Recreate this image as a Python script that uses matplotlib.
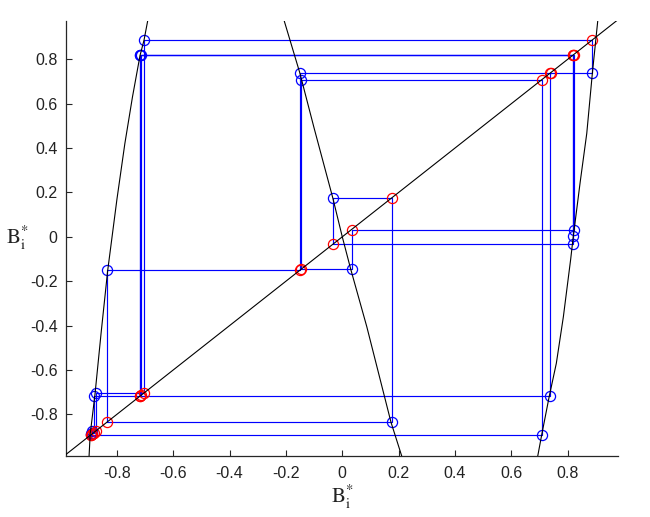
import matplotlib
matplotlib.use("Agg")
import matplotlib.pyplot as plt
from matplotlib.ticker import FuncFormatter, FixedLocator

plt.rcParams['font.family'] = ['Liberation Sans', 'DejaVu Sans']
plt.rcParams['mathtext.fontset'] = 'stix'

# ---- map branches (x, f(x)) ----
left_x = [-0.899, -0.895, -0.878, -0.856, -0.833, -0.800, -0.772, -0.745, -0.718, -0.704, -0.691]
left_y = [-0.988, -0.890, -0.710, -0.430, -0.153, 0.170, 0.420, 0.630, 0.818, 0.886, 0.973]

mid_x = [-0.206, -0.151, -0.100, -0.034, 0.000, 0.030, 0.087, 0.173, 0.211]
mid_y = [0.973, 0.740, 0.490, 0.177, 0.000, -0.146, -0.405, -0.836, -0.988]

right_x = [0.694, 0.708, 0.735, 0.760, 0.785, 0.811, 0.820, 0.845, 0.868, 0.888, 0.907]
right_y = [-0.988, -0.893, -0.718, -0.570, -0.360, -0.100, 0.000, 0.250, 0.466, 0.739, 0.973]

diag = [-1.0, 1.0]

# ---- iterates read from the cobweb (two runs) ----
orbit_a = [-0.893, -0.887, -0.876, -0.705, 0.886, 0.737, -0.718, 0.818, -0.034,
           0.177, -0.835, -0.151, 0.740]
orbit_b = [-0.713, 0.821, 0.033, -0.145, 0.709, -0.893, -0.889, -0.883, -0.718,
           0.818, 0.005]

xticks = [-0.8, -0.6, -0.4, -0.2, 0, 0.2, 0.4, 0.6, 0.8]
yticks = [-0.8, -0.6, -0.4, -0.2, 0, 0.2, 0.4, 0.6, 0.8]

fig = plt.figure(figsize=(6.5, 5.17), dpi=100)
ax = fig.add_axes([0.1015, 0.118, 0.8493, 0.8414])


def cobweb(orbit, end_on_diagonal):
    px, py = [orbit[0]], [orbit[0]]
    blue_x, blue_y, red = [], [], [orbit[0]]
    for n in range(len(orbit) - 1):
        # vertical to the map
        px.append(orbit[n]); py.append(orbit[n + 1])
        blue_x.append(orbit[n]); blue_y.append(orbit[n + 1])
        last = n == len(orbit) - 2
        if not last or end_on_diagonal:
            # horizontal back to the diagonal
            px.append(orbit[n + 1]); py.append(orbit[n + 1])
            red.append(orbit[n + 1])
    ax.plot(px, py, color='#0000ff', lw=0.85, zorder=2)
    ax.plot(blue_x, blue_y, 'o', mfc='none', mec='#0000ff', ms=7.3, mew=0.9, zorder=3)
    ax.plot(red, red, 'o', mfc='none', mec='#ff0000', ms=7.3, mew=0.9, zorder=3)


cobweb(orbit_a, True)
cobweb(orbit_b, False)

# black curves
for bx, by in ((left_x, left_y), (mid_x, mid_y), (right_x, right_y)):
    ax.plot(bx, by, color='black', lw=0.8, zorder=4)
ax.plot(diag, diag, color='black', lw=0.8, zorder=4)

ax.set_xlim(-0.981, 0.979)
ax.set_ylim(-0.988, 0.973)

ax.spines['top'].set_visible(False)
ax.spines['right'].set_visible(False)
for s in ('left', 'bottom'):
    ax.spines[s].set_linewidth(0.9)
    ax.spines[s].set_color('#262626')

ax.xaxis.set_major_locator(FixedLocator(xticks))
ax.yaxis.set_major_locator(FixedLocator(yticks))
fmt = FuncFormatter(lambda v, p: '%g' % round(v, 2))
ax.xaxis.set_major_formatter(fmt)
ax.yaxis.set_major_formatter(fmt)
ax.tick_params(direction='in', length=4.5, width=0.8, colors='#262626',
               labelsize=11.5, labelcolor='#222222')
ax.tick_params(axis='x', pad=7)
ax.tick_params(axis='y', pad=6)

ax.set_xlabel(r'$\mathrm{B}_{\mathrm{i}}^{*}$', fontsize=15, color='#222222', labelpad=2)
ax.set_ylabel(r'$\mathrm{B}_{\mathrm{i}}^{*}$', fontsize=15, color='#222222', rotation=0,
              labelpad=9, va='center')

fig.savefig('out.png', dpi=100)
